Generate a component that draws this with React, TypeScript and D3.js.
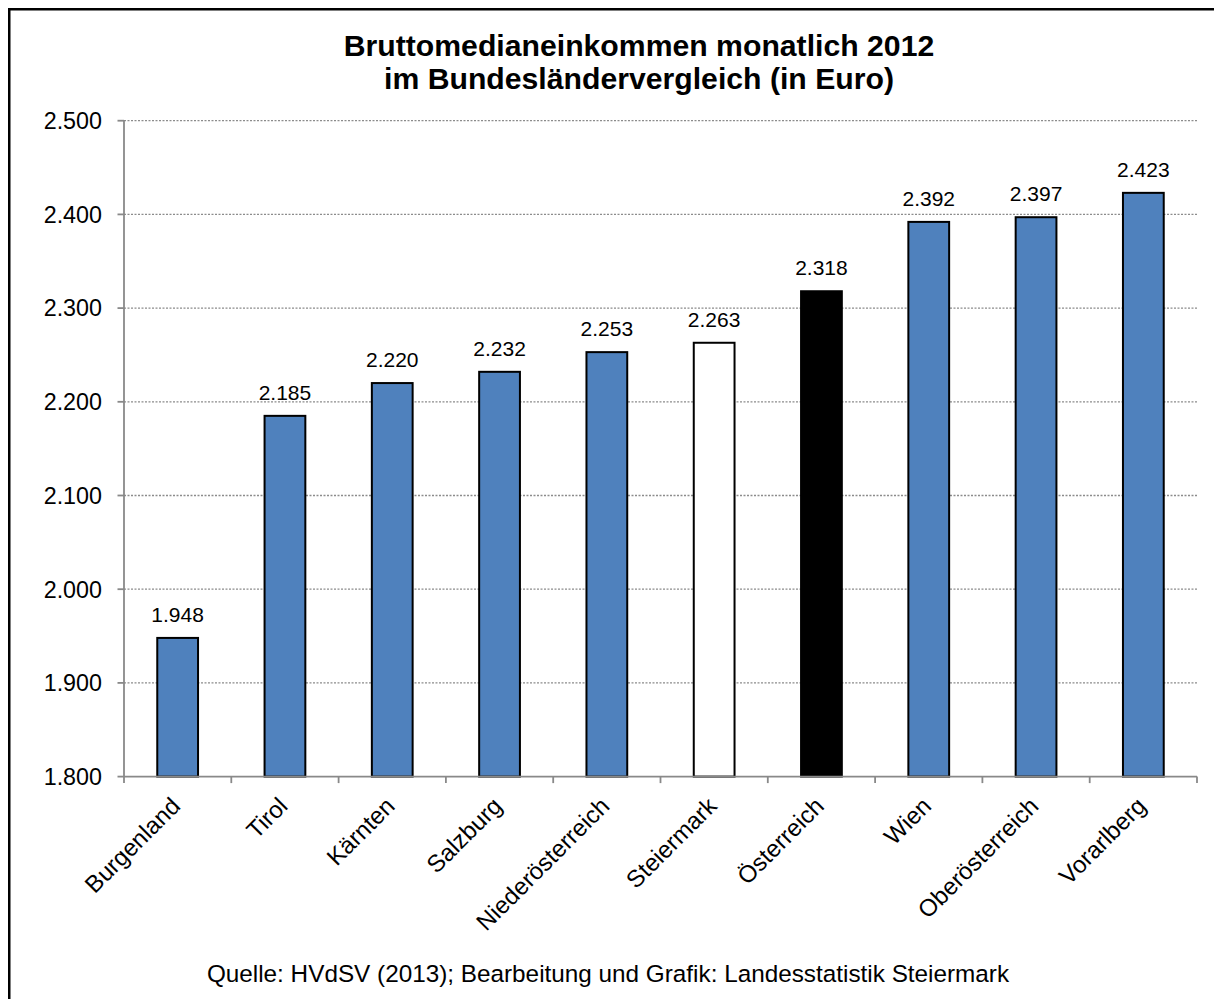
import React from "react";
import * as d3 from "d3";

const categories = [
  "Burgenland",
  "Tirol",
  "Kärnten",
  "Salzburg",
  "Niederösterreich",
  "Steiermark",
  "Österreich",
  "Wien",
  "Oberösterreich",
  "Vorarlberg",
];
const values = [1948, 2185, 2220, 2232, 2253, 2263, 2318, 2392, 2397, 2423];
const fills = ["#4F81BD", "#4F81BD", "#4F81BD", "#4F81BD", "#4F81BD", "#FFFFFF", "#000000", "#4F81BD", "#4F81BD", "#4F81BD"];
const yTicks = [1800, 1900, 2000, 2100, 2200, 2300, 2400, 2500];
const titleLines = ["Bruttomedianeinkommen monatlich 2012", "im Bundesländervergleich (in Euro)"];
const footer = "Quelle: HVdSV (2013); Bearbeitung und Grafik: Landesstatistik Steiermark";

const W = 1214;
const H = 999;
const FONT = "'Liberation Sans', Arial, Helvetica, sans-serif";

const fmt = (v: number) => d3.format(",")(v).replace(/,/g, ".");

export default function App() {
  const left = 124;
  const right = 1197;
  const top = 120.7;
  const bottom = 776.6;

  const x = d3.scaleBand<string>().domain(categories).range([left, right]).padding(0);
  const y = d3.scaleLinear().domain([1800, 2500]).range([bottom, top]);
  const step = x.step();
  const barW = step * 0.38;

  const boundaries = d3.range(categories.length + 1).map((i) => left + i * step);

  return (
    <svg
      width={W}
      height={H}
      style={{ position: "absolute", left: 0, top: 0, background: "#fff" }}
      fontFamily={FONT}
    >
      <rect x={0} y={0} width={W} height={H} fill="#fff" />
      <rect x={9.25} y={9.25} width={1300} height={1100} fill="none" stroke="#000" strokeWidth={2.5} />

      {titleLines.map((t, i) => (
        <text key={t} x={639} y={56 + i * 33} textAnchor="middle" fontWeight="bold" fontSize={30.2} fill="#000">
          {t}
        </text>
      ))}

      {/* gridlines */}
      {yTicks.slice(1).map((t) => (
        <line
          key={"g" + t}
          x1={left}
          x2={right}
          y1={y(t)}
          y2={y(t)}
          stroke="#8c8c8c"
          strokeWidth={1.3}
          strokeDasharray="2 1.5"
        />
      ))}

      {/* bars */}
      {categories.map((c, i) => {
        const cx = (x(c) as number) + step / 2;
        return (
          <g key={c}>
            <rect
              x={cx - barW / 2}
              y={y(values[i])}
              width={barW}
              height={bottom - y(values[i])}
              fill={fills[i]}
              stroke="#000"
              strokeWidth={2}
            />
            <text x={cx} y={y(values[i]) - 16} textAnchor="middle" fontSize={21} fill="#000">
              {fmt(values[i])}
            </text>
          </g>
        );
      })}

      {/* y axis */}
      <line x1={left} x2={left} y1={top} y2={bottom} stroke="#898989" strokeWidth={1.8} />
      {yTicks.map((t) => (
        <g key={"y" + t}>
          <line x1={left - 6.5} x2={left} y1={y(t)} y2={y(t)} stroke="#898989" strokeWidth={1.8} />
          <text x={102} y={y(t)} dy="0.36em" textAnchor="end" fontSize={23.3} fill="#000">
            {fmt(t)}
          </text>
        </g>
      ))}

      {/* x axis */}
      <line x1={left} x2={right} y1={bottom} y2={bottom} stroke="#898989" strokeWidth={1.8} />
      {boundaries.map((b, i) => (
        <line key={"xt" + i} x1={b} x2={b} y1={bottom} y2={bottom + 6.5} stroke="#898989" strokeWidth={1.8} />
      ))}
      {categories.map((c) => {
        const cx = (x(c) as number) + step / 2;
        const tx = cx + 4;
        const ty = bottom + 31;
        return (
          <text
            key={"xl" + c}
            x={tx}
            y={ty}
            textAnchor="end"
            fontSize={24}
            fill="#000"
            transform={`rotate(-45, ${tx}, ${ty})`}
          >
            {c}
          </text>
        );
      })}

      <text x={608} y={982} textAnchor="middle" fontSize={24.3} fill="#000">
        {footer}
      </text>
    </svg>
  );
}
